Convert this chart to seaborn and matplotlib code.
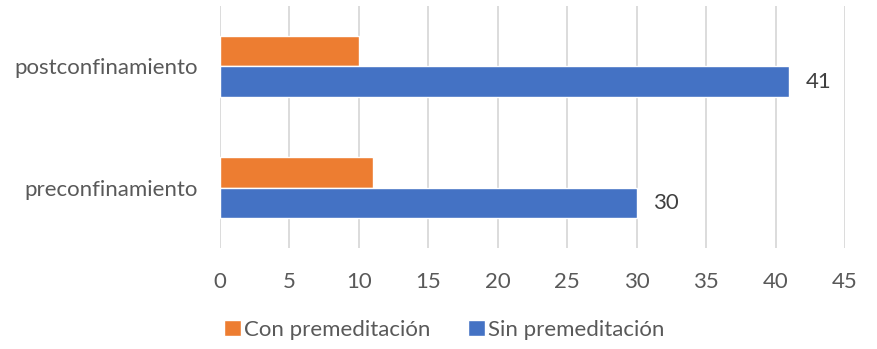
import matplotlib
matplotlib.use("Agg")
import matplotlib.pyplot as plt
import seaborn as sns
import pandas as pd

categories = ["postconfinamiento", "preconfinamiento"]
series_names = ["Con premeditación", "Sin premeditación"]
con_premeditacion = [10, 11]
sin_premeditacion = [41, 30]
x_ticks = [0, 5, 10, 15, 20, 25, 30, 35, 40, 45]

df = pd.DataFrame({
    "periodo": categories * 2,
    "serie": [series_names[0]] * 2 + [series_names[1]] * 2,
    "valor": con_premeditacion + sin_premeditacion,
})

sns.set_theme(style="white")
plt.rcParams["font.family"] = ["Lato", "DejaVu Sans"]

text_color = "#595959"
fs = 16
fig = plt.figure(figsize=(8.78, 3.49), dpi=100)
ax = fig.add_axes([0.2506, 0.289, 0.7118, 0.694])

sns.barplot(data=df, x="valor", y="periodo", hue="serie", orient="h",
            order=categories, hue_order=series_names,
            palette=["#ED7D31", "#4472C4"], width=0.51, saturation=1,
            ax=ax, legend=True)

ax.set_xlim(0, 45)
ax.set_ylim(1.5, -0.5)
ax.set_xticks(x_ticks)
ax.set_xticklabels([str(t) for t in x_ticks])
ax.xaxis.grid(True, color="#D9D9D9", linewidth=1.3)
ax.set_axisbelow(True)
for s in ax.spines.values():
    s.set_visible(False)
ax.set_xlabel("")
ax.set_ylabel("")
ax.tick_params(axis="x", length=0, pad=17, labelsize=fs, labelcolor=text_color)
ax.tick_params(axis="y", length=0, pad=16, labelsize=fs, labelcolor=text_color)

# value labels on the "Sin premeditación" bars only
ax.bar_label(ax.containers[1], labels=[str(v) for v in sin_premeditacion],
             padding=12, fontsize=fs, color="#404040")

handles, labels = ax.get_legend_handles_labels()
ax.get_legend().remove()
leg = fig.legend(handles, labels, loc="center", bbox_to_anchor=(0.506, 0.055), ncol=2,
                 frameon=False, fontsize=fs, handlelength=0.75, handleheight=0.75,
                 handletextpad=0.15, columnspacing=1.7)
for t in leg.get_texts():
    t.set_color(text_color)

fig.savefig("out.png", dpi=100, facecolor="white")
